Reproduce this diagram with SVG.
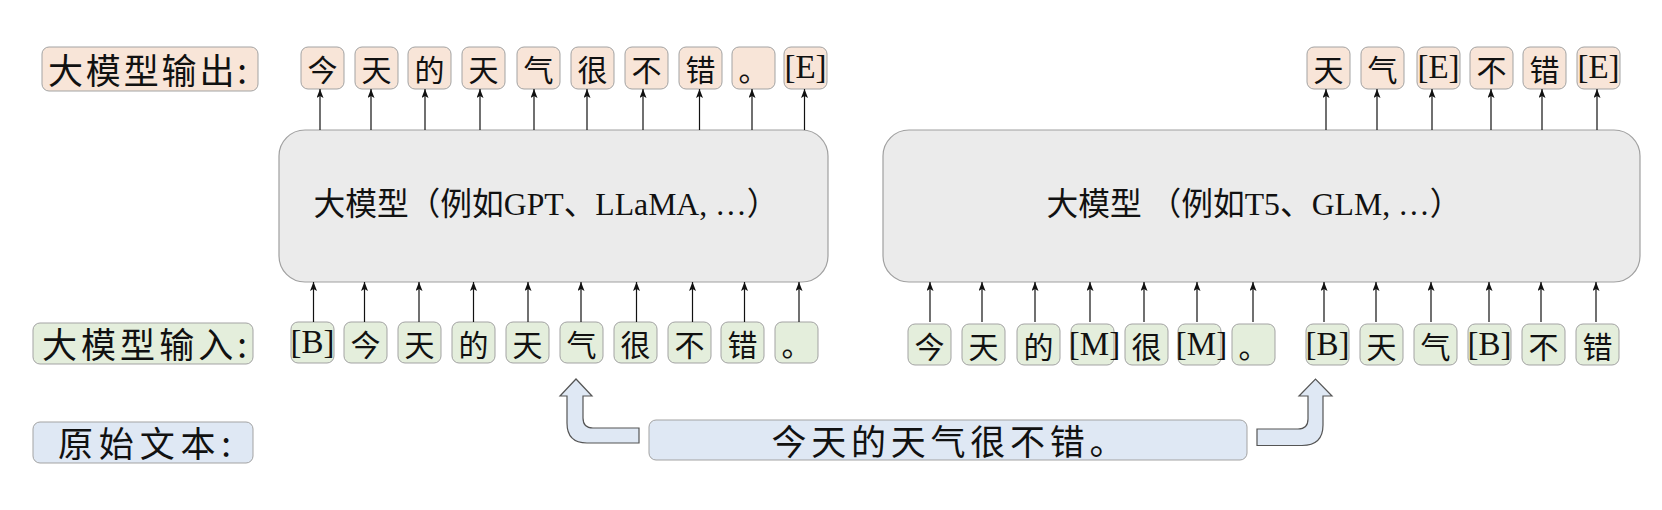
<svg xmlns="http://www.w3.org/2000/svg" width="1662" height="510" viewBox="0 0 1662 510">
<defs>
<style>
.tk{stroke:#a3a3a3;stroke-width:1;}
.o{fill:#f8e5d8;}
.i{fill:#e4eedc;}
.s{fill:#dfe8f4;}
.m{fill:#ebebeb;stroke:#a0a0a0;stroke-width:1.2;}
text{font-family:"Liberation Serif","Noto Sans CJK SC",serif;fill:#111;text-anchor:middle;dominant-baseline:central;}
.cj{font-family:"Noto Sans CJK SC",sans-serif;font-size:30px;}
.lt{font-size:33px;}
.lb{font-family:"Noto Sans CJK SC",sans-serif;font-size:35px;}
.mt{font-size:32px;}
.con line{stroke:#111;stroke-width:1.2;marker-end:url(#ah);}
.bent{fill:#dfe8f4;stroke:#555;stroke-width:1.2;}
</style>
<marker id="ah" viewBox="0 0 9 7" refX="9" refY="3.5" markerWidth="9" markerHeight="7" orient="auto" markerUnits="userSpaceOnUse">
<path d="M0,0 L9,3.5 L0,7 L2,3.5 z" fill="#111"/>
</marker>
</defs>

<!-- labels -->
<g id="label-output"><rect class="tk o" x="42" y="47" width="216" height="44" rx="7"/><text class="lb" x="147.5" y="68" textLength="199" lengthAdjust="spacing">大模型输出:</text></g>
<g id="label-input"><rect class="tk i" x="33" y="323" width="220" height="41" rx="7"/><text class="lb" x="144.5" y="342.5" textLength="205" lengthAdjust="spacing">大模型输入:</text></g>
<g id="label-source"><rect class="tk s" x="33" y="422" width="220" height="41" rx="7"/><text class="lb" x="144.5" y="441.5" textLength="173" lengthAdjust="spacing">原始文本:</text></g>

<!-- models -->
<g id="model-left"><rect class="m" x="279" y="130" width="549" height="152" rx="26"/><text class="mt" x="546" y="204" textLength="465" lengthAdjust="spacingAndGlyphs">大模型（例如GPT、LLaMA, …）</text></g>
<g id="model-right"><rect class="m" x="883" y="130" width="757" height="152" rx="26"/><text class="mt" x="1254" y="204" textLength="415" lengthAdjust="spacingAndGlyphs">大模型 （例如T5、GLM, …）</text></g>

<!-- left outputs -->
<g id="lo1"><rect class="tk o" x="301" y="47" width="43" height="42" rx="7"/><text class="cj" x="322.5" y="68">今</text></g>
<g id="lo2"><rect class="tk o" x="355" y="47" width="43" height="42" rx="7"/><text class="cj" x="376.5" y="68">天</text></g>
<g id="lo3"><rect class="tk o" x="408" y="47" width="43" height="42" rx="7"/><text class="cj" x="429.5" y="68">的</text></g>
<g id="lo4"><rect class="tk o" x="462" y="47" width="43" height="42" rx="7"/><text class="cj" x="483.5" y="68">天</text></g>
<g id="lo5"><rect class="tk o" x="517" y="47" width="43" height="42" rx="7"/><text class="cj" x="538.5" y="68">气</text></g>
<g id="lo6"><rect class="tk o" x="571" y="47" width="43" height="42" rx="7"/><text class="cj" x="592.5" y="68">很</text></g>
<g id="lo7"><rect class="tk o" x="625" y="47" width="43" height="42" rx="7"/><text class="cj" x="646.5" y="68">不</text></g>
<g id="lo8"><rect class="tk o" x="679" y="47" width="43" height="42" rx="7"/><text class="cj" x="700.5" y="68">错</text></g>
<g id="lo9"><rect class="tk o" x="732" y="47" width="43" height="42" rx="7"/><text class="cj" x="753.5" y="68">。</text></g>
<g id="lo10"><rect class="tk o" x="784" y="47" width="43" height="42" rx="7"/><text class="lt" x="805.5" y="67">[E]</text></g>

<!-- right outputs -->
<g id="ro1"><rect class="tk o" x="1307" y="47" width="43" height="42" rx="7"/><text class="cj" x="1328.5" y="68">天</text></g>
<g id="ro2"><rect class="tk o" x="1361" y="47" width="43" height="42" rx="7"/><text class="cj" x="1382.5" y="68">气</text></g>
<g id="ro3"><rect class="tk o" x="1417" y="47" width="43" height="42" rx="7"/><text class="lt" x="1438.5" y="67">[E]</text></g>
<g id="ro4"><rect class="tk o" x="1470" y="47" width="43" height="42" rx="7"/><text class="cj" x="1491.5" y="68">不</text></g>
<g id="ro5"><rect class="tk o" x="1523" y="47" width="43" height="42" rx="7"/><text class="cj" x="1544.5" y="68">错</text></g>
<g id="ro6"><rect class="tk o" x="1577" y="47" width="43" height="42" rx="7"/><text class="lt" x="1598.5" y="67">[E]</text></g>

<!-- left inputs -->
<g id="li1"><rect class="tk i" x="291" y="322" width="43" height="41" rx="7"/><text class="lt" x="312.5" y="341.5">[B]</text></g>
<g id="li2"><rect class="tk i" x="344" y="322" width="43" height="41" rx="7"/><text class="cj" x="365.5" y="342.5">今</text></g>
<g id="li3"><rect class="tk i" x="398" y="322" width="43" height="41" rx="7"/><text class="cj" x="419.5" y="342.5">天</text></g>
<g id="li4"><rect class="tk i" x="452" y="322" width="43" height="41" rx="7"/><text class="cj" x="473.5" y="342.5">的</text></g>
<g id="li5"><rect class="tk i" x="506" y="322" width="43" height="41" rx="7"/><text class="cj" x="527.5" y="342.5">天</text></g>
<g id="li6"><rect class="tk i" x="560" y="322" width="43" height="41" rx="7"/><text class="cj" x="581.5" y="342.5">气</text></g>
<g id="li7"><rect class="tk i" x="614" y="322" width="43" height="41" rx="7"/><text class="cj" x="635.5" y="342.5">很</text></g>
<g id="li8"><rect class="tk i" x="668" y="322" width="43" height="41" rx="7"/><text class="cj" x="689.5" y="342.5">不</text></g>
<g id="li9"><rect class="tk i" x="721" y="322" width="43" height="41" rx="7"/><text class="cj" x="742.5" y="342.5">错</text></g>
<g id="li10"><rect class="tk i" x="775" y="322" width="43" height="41" rx="7"/><text class="cj" x="796.5" y="342.5">。</text></g>

<!-- right inputs -->
<g id="ri1"><rect class="tk i" x="908" y="324" width="43" height="41" rx="7"/><text class="cj" x="929.5" y="344.5">今</text></g>
<g id="ri2"><rect class="tk i" x="962" y="324" width="43" height="41" rx="7"/><text class="cj" x="983.5" y="344.5">天</text></g>
<g id="ri3"><rect class="tk i" x="1017" y="324" width="43" height="41" rx="7"/><text class="cj" x="1038.5" y="344.5">的</text></g>
<g id="ri4"><rect class="tk i" x="1071" y="324" width="43" height="41" rx="7"/><text class="lt" x="1094.5" y="343.5">[M]</text></g>
<g id="ri5"><rect class="tk i" x="1125" y="324" width="43" height="41" rx="7"/><text class="cj" x="1146.5" y="344.5">很</text></g>
<g id="ri6"><rect class="tk i" x="1178" y="324" width="43" height="41" rx="7"/><text class="lt" x="1201.5" y="343.5">[M]</text></g>
<g id="ri7"><rect class="tk i" x="1232" y="324" width="43" height="41" rx="7"/><text class="cj" x="1253.5" y="344.5">。</text></g>
<g id="ri8"><rect class="tk i" x="1306" y="324" width="43" height="41" rx="7"/><text class="lt" x="1327.5" y="343.5">[B]</text></g>
<g id="ri9"><rect class="tk i" x="1360" y="324" width="43" height="41" rx="7"/><text class="cj" x="1381.5" y="344.5">天</text></g>
<g id="ri10"><rect class="tk i" x="1414" y="324" width="43" height="41" rx="7"/><text class="cj" x="1435.5" y="344.5">气</text></g>
<g id="ri11"><rect class="tk i" x="1468" y="324" width="43" height="41" rx="7"/><text class="lt" x="1489.5" y="343.5">[B]</text></g>
<g id="ri12"><rect class="tk i" x="1522" y="324" width="43" height="41" rx="7"/><text class="cj" x="1543.5" y="344.5">不</text></g>
<g id="ri13"><rect class="tk i" x="1576" y="324" width="43" height="41" rx="7"/><text class="cj" x="1597.5" y="344.5">错</text></g>

<!-- source text -->
<g id="source"><rect class="tk s" x="649" y="420" width="598" height="40" rx="7"/><text class="lb" x="948" y="439" textLength="353" lengthAdjust="spacing">今天的天气很不错。</text></g>

<!-- connectors -->
<g id="connectors" class="con">
<line x1="320" y1="130" x2="320" y2="89"/>
<line x1="371" y1="130" x2="371" y2="89"/>
<line x1="425" y1="130" x2="425" y2="89"/>
<line x1="480" y1="130" x2="480" y2="89"/>
<line x1="534" y1="130" x2="534" y2="89"/>
<line x1="587" y1="130" x2="587" y2="89"/>
<line x1="643" y1="130" x2="643" y2="89"/>
<line x1="699.5" y1="130" x2="699.5" y2="89"/>
<line x1="752" y1="130" x2="752" y2="89"/>
<line x1="804.5" y1="130" x2="804.5" y2="89"/>

<line x1="1326" y1="130" x2="1326" y2="89"/>
<line x1="1377" y1="130" x2="1377" y2="89"/>
<line x1="1432" y1="130" x2="1432" y2="89"/>
<line x1="1491" y1="130" x2="1491" y2="89"/>
<line x1="1542" y1="130" x2="1542" y2="89"/>
<line x1="1597" y1="130" x2="1597" y2="89"/>

<line x1="313.5" y1="322" x2="313.5" y2="282"/>
<line x1="364.5" y1="322" x2="364.5" y2="282"/>
<line x1="419" y1="322" x2="419" y2="282"/>
<line x1="473.5" y1="322" x2="473.5" y2="282"/>
<line x1="528" y1="322" x2="528" y2="282"/>
<line x1="581" y1="322" x2="581" y2="282"/>
<line x1="636.5" y1="322" x2="636.5" y2="282"/>
<line x1="692.5" y1="322" x2="692.5" y2="282"/>
<line x1="744.5" y1="322" x2="744.5" y2="282"/>
<line x1="799" y1="322" x2="799" y2="282"/>

<line x1="930" y1="322" x2="930" y2="282"/>
<line x1="982" y1="322" x2="982" y2="282"/>
<line x1="1035" y1="322" x2="1035" y2="282"/>
<line x1="1090" y1="322" x2="1090" y2="282"/>
<line x1="1144" y1="322" x2="1144" y2="282"/>
<line x1="1197" y1="322" x2="1197" y2="282"/>
<line x1="1253" y1="322" x2="1253" y2="282"/>
<line x1="1324" y1="322" x2="1324" y2="282"/>
<line x1="1376" y1="322" x2="1376" y2="282"/>
<line x1="1431" y1="322" x2="1431" y2="282"/>
<line x1="1489" y1="322" x2="1489" y2="282"/>
<line x1="1541" y1="322" x2="1541" y2="282"/>
<line x1="1596" y1="322" x2="1596" y2="282"/>

<path class="bent" d="M639 428 L593 428 Q583 428 583 418 L583 396 L592 396 L576 379 L560 396 L567 396 L567 423 Q567 443 587 443 L639 443 Z"/>
<path class="bent" d="M1257 429 L1298 429 Q1308 429 1308 419 L1308 396 L1299 396 L1315.5 379 L1332 396 L1323 396 L1323 425 Q1323 445.5 1302 445.5 L1257 445.5 Z"/>
</g>
</svg>
